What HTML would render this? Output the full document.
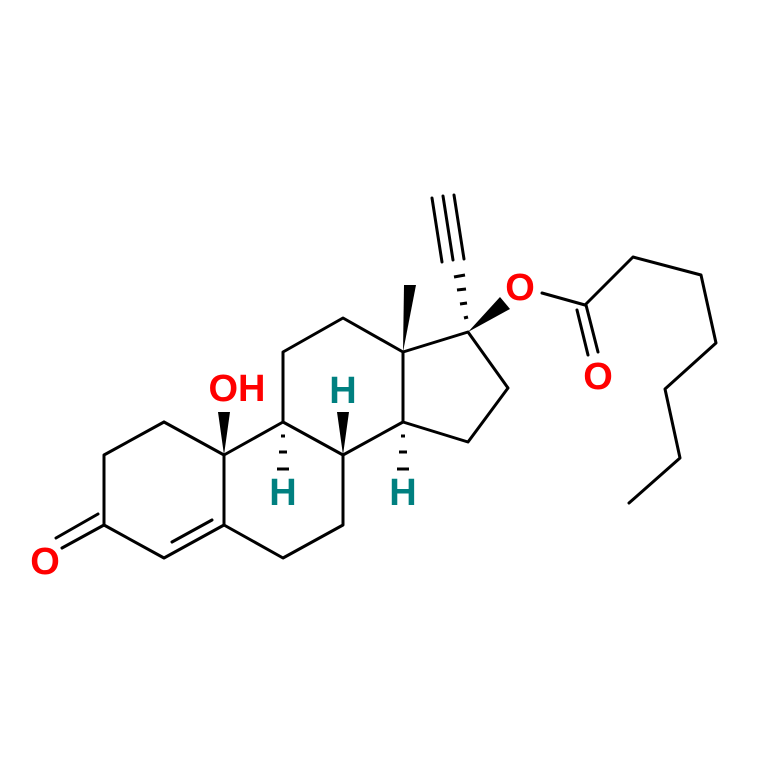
<!DOCTYPE html>
<html><head><style>html,body{margin:0;padding:0;background:#fff}svg{display:block}</style></head>
<body>
<svg width="768" height="769" viewBox="0 0 768 769" xmlns="http://www.w3.org/2000/svg">
<g stroke="#000" stroke-width="3" fill="none" stroke-linecap="round" stroke-linejoin="round">
<polyline points="164,422 104,455 104,525 164,558 224,525 224,455 164,422"/>
<line x1="172" y1="542" x2="212" y2="520"/>
<line x1="104" y1="525" x2="62" y2="548"/>
<line x1="98" y1="514" x2="56" y2="538"/>
<polyline points="224,455 283,422 343,455 343,525 283,558 224,525"/>
<polyline points="283,422 283,352 343,318 403,352 403,422 343,455"/>
<polyline points="403,352 468,332 508,388 468,442 403,422"/>
<line x1="542" y1="293" x2="585" y2="305"/>
<line x1="586" y1="305" x2="598" y2="352"/>
<line x1="577" y1="310" x2="588" y2="355"/>
<polyline points="585,305 633,257 701,275 716,343 665,389 680,458 629,503"/>
<line x1="432" y1="198" x2="442" y2="262"/>
<line x1="443" y1="196" x2="453" y2="260"/>
<line x1="454" y1="195" x2="464" y2="259"/>
</g>
<g fill="#000">
<polygon points="224,455 218,412 230,412"/>
<polygon points="343,455 337,412 349,412"/>
<polygon points="403,352 404,285 416,285"/>
<polygon points="468,332 500,297 510,309"/>
</g>
<g stroke="#000" stroke-width="3">
<line x1="281" y1="436" x2="285" y2="436"/>
<line x1="279" y1="452" x2="287" y2="452"/>
<line x1="277" y1="469" x2="289" y2="469"/>
<line x1="401" y1="436" x2="405" y2="436"/>
<line x1="399" y1="452" x2="407" y2="452"/>
<line x1="397" y1="469" x2="409" y2="469"/>
<line x1="464" y1="318" x2="468" y2="317"/>
<line x1="460" y1="304" x2="467" y2="303"/>
<line x1="457" y1="290" x2="466" y2="289"/>
<line x1="454" y1="277" x2="465" y2="275"/>
</g>
<g font-family="Liberation Sans, sans-serif" font-weight="bold" font-size="38" text-anchor="middle">
<text x="45" y="574" fill="#f00">O</text>
<text x="237" y="401" fill="#f00">OH</text>
<text x="283" y="505" fill="#008080">H</text>
<text x="343" y="403" fill="#008080">H</text>
<text x="403" y="505" fill="#008080">H</text>
<text x="520" y="300" fill="#f00">O</text>
<text x="598" y="389" fill="#f00">O</text>
</g>
</svg>
</body></html>
